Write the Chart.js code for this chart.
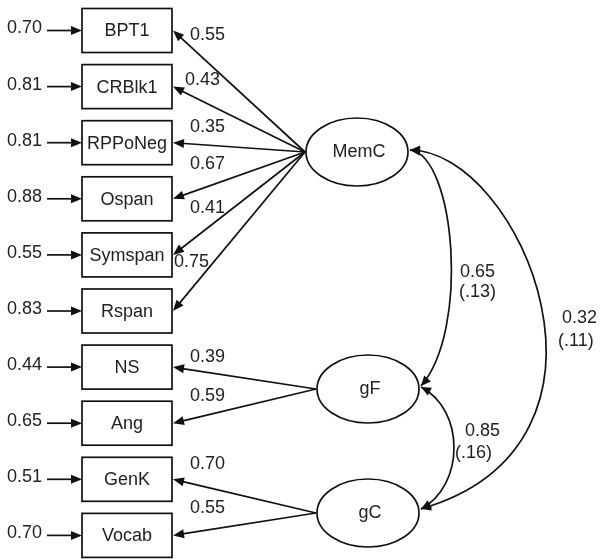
<!DOCTYPE html>
<html>
<head>
<meta charset="utf-8">
<script src="https://cdn.jsdelivr.net/npm/chart.js@4/dist/chart.umd.min.js"></script>
<style>
  html, body { margin: 0; padding: 0; background: #fff; }
  #diagram { display: block; }
</style>
</head>
<body>
<canvas id="diagram" width="600" height="559"></canvas>
<script>
// observed indicators and their standardized estimates
var indicators = ['BPT1', 'CRBlk1', 'RPPoNeg', 'Ospan', 'Symspan', 'Rspan', 'NS', 'Ang', 'GenK', 'Vocab'];
var residuals = [0.70, 0.81, 0.81, 0.88, 0.55, 0.83, 0.44, 0.65, 0.51, 0.70];
var loadings = [0.55, 0.43, 0.35, 0.67, 0.41, 0.75, 0.39, 0.59, 0.70, 0.55];
var loadsOn = [0, 0, 0, 0, 0, 0, 1, 1, 2, 2];

// latent factors and their correlations (standard errors in brackets)
var factors = ['MemC', 'gF', 'gC'];
var corrFrom = [0, 1, 0];
var corrTo = [1, 2, 2];
var corrValues = [0.65, 0.85, 0.32];
var corrSE = [0.13, 0.16, 0.11];

// layout (pixels in the 600x559 frame)
var boxLeft = 82, boxRight = 172, boxH = 44, boxY0 = 30.5, boxStep = 56.1;
var factorPos = [[357, 152], [368, 389], [368, 513]];
var ellRx = 51, ellRy = 34;
var loadLabel = [[190, 35], [185, 80], [190, 127], [190, 164], [190, 208], [174, 262],
                 [190, 357], [190, 396], [190, 464], [190, 508]];
// curve bend: offsets of the two control points from start / end
var curveBend = [[45, 5, 49, -56], [44, 23, 44, -24], [110, 0, 225, -65]];
var curveStartDy = [-2, -2, -2];
var curveEndDy = [-3, -4, -4];
var corrLabel = [[460, 272, 459, 292], [465, 431, 455, 453], [562, 318, 558, 341]];

var FONT = '18px Arial, "Liberation Sans", sans-serif';
var INK = '#111';
var TEXT = '#222';

function fmt(v) { return v.toFixed(2); }
function fmtSE(v) { return '(' + v.toFixed(2).slice(1) + ')'; }

function head(ctx, x, y, ang, len, half) {
    ctx.save();
    ctx.translate(x, y);
    ctx.rotate(ang);
    ctx.beginPath();
    ctx.moveTo(0, 0);
    ctx.lineTo(-len, -half);
    ctx.lineTo(-len, half);
    ctx.closePath();
    ctx.fill();
    ctx.restore();
}

function arrow(ctx, x0, y0, x1, y1) {
    var ang = Math.atan2(y1 - y0, x1 - x0);
    ctx.beginPath();
    ctx.moveTo(x0, y0);
    ctx.lineTo(x1 - 8 * Math.cos(ang), y1 - 8 * Math.sin(ang));
    ctx.stroke();
    head(ctx, x1, y1, ang, 11, 4.5);
}

var pathPlugin = {
    id: 'pathDiagram',
    afterDraw: function (chart) {
        var ctx = chart.ctx;
        var sx = chart.scales.x, sy = chart.scales.y;
        function X(v) { return sx.getPixelForValue(v); }
        function Y(v) { return sy.getPixelForValue(v); }

        ctx.save();
        ctx.lineWidth = 1.7;
        ctx.strokeStyle = INK;
        ctx.fillStyle = INK;
        ctx.font = FONT;
        ctx.textBaseline = 'middle';

        // indicator boxes, residual arrows, loadings
        indicators.forEach(function (name, i) {
            var cy = boxY0 + i * boxStep;
            ctx.strokeRect(X(boxLeft), Y(cy - boxH / 2), X(boxRight) - X(boxLeft), Y(cy + boxH / 2) - Y(cy - boxH / 2));
            ctx.fillStyle = TEXT;
            ctx.textAlign = 'center';
            ctx.fillText(name, X((boxLeft + boxRight) / 2), Y(cy + 1));
            ctx.textAlign = 'left';
            ctx.fillText(fmt(residuals[i]), X(7), Y(cy - 2));
            ctx.fillStyle = INK;
            arrow(ctx, X(47), Y(cy), X(boxLeft), Y(cy));

            var f = factorPos[loadsOn[i]];
            arrow(ctx, X(f[0] - ellRx - 1), Y(f[1]), X(boxRight + 1), Y(cy));
            ctx.fillStyle = TEXT;
            ctx.fillText(fmt(loadings[i]), X(loadLabel[i][0]), Y(loadLabel[i][1]));
            ctx.fillStyle = INK;
        });

        // latent factor ellipses
        factors.forEach(function (name, k) {
            var p = factorPos[k];
            ctx.beginPath();
            ctx.ellipse(X(p[0]), Y(p[1]), X(p[0] + ellRx) - X(p[0]), Y(p[1] + ellRy) - Y(p[1]), 0, 0, Math.PI * 2);
            ctx.fillStyle = '#fff';
            ctx.fill();
            ctx.stroke();
            ctx.fillStyle = TEXT;
            ctx.textAlign = 'center';
            ctx.fillText(name, X(p[0] + 2), Y(p[1]));
            ctx.fillStyle = INK;
        });

        // correlation curves with heads at both ends
        corrValues.forEach(function (r, j) {
            var a = factorPos[corrFrom[j]], b = factorPos[corrTo[j]];
            var bend = curveBend[j];
            var x0 = a[0] + ellRx + 2, y0 = a[1] + curveStartDy[j];
            var x3 = b[0] + ellRx + 2, y3 = b[1] + curveEndDy[j];
            var x1 = x0 + bend[0], y1 = y0 + bend[1];
            var x2 = x3 + bend[2], y2 = y3 + bend[3];
            ctx.beginPath();
            ctx.moveTo(X(x0), Y(y0));
            ctx.bezierCurveTo(X(x1), Y(y1), X(x2), Y(y2), X(x3), Y(y3));
            ctx.stroke();
            head(ctx, X(x0), Y(y0), Math.atan2(Y(y0) - Y(y1), X(x0) - X(x1)), 10, 4.5);
            head(ctx, X(x3), Y(y3), Math.atan2(Y(y3) - Y(y2), X(x3) - X(x2)), 10, 4.5);

            var L = corrLabel[j];
            ctx.fillStyle = TEXT;
            ctx.textAlign = 'left';
            ctx.fillText(fmt(r), X(L[0]), Y(L[1]));
            ctx.fillText(fmtSE(corrSE[j]), X(L[2]), Y(L[3]));
            ctx.fillStyle = INK;
        });

        ctx.restore();
    }
};

var ctx = document.getElementById('diagram').getContext('2d');
var chart = new Chart(ctx, {
    type: 'scatter',
    data: { datasets: [{ data: [], pointRadius: 0 }] },
    options: {
        responsive: false,
        animation: false,
        layout: { padding: 0 },
        scales: {
            x: { type: 'linear', min: 0, max: 600, display: false },
            y: { type: 'linear', min: 0, max: 559, reverse: true, display: false }
        },
        plugins: { legend: { display: false }, tooltip: { enabled: false } }
    },
    plugins: [pathPlugin]
});
</script>
</body>
</html>
